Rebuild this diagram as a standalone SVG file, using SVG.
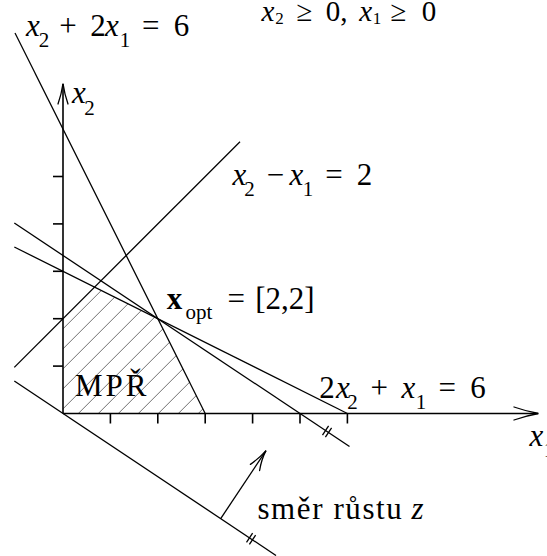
<svg xmlns="http://www.w3.org/2000/svg" width="547" height="556" viewBox="0 0 547 556">
<defs>
<style>
.ln{stroke:#000;stroke-width:1.3;fill:none}
.ax{stroke:#000;stroke-width:1.6;fill:none}
.tk{stroke:#000;stroke-width:1.6}
.hx{stroke:#333;stroke-width:0.7}
.ah{stroke:#000;stroke-width:1.3;fill:none;stroke-linecap:round}
.t{font-family:"Liberation Serif",serif;font-size:31px;fill:#000}
.i{font-style:italic}
.s{font-size:21px}
.b{font-weight:bold}
</style>
<clipPath id="mpr"><path d="M63,413.5 L63,318.7 L94.6,287.1 L157.8,318.7 L205.2,413.5 Z"/></clipPath>
</defs>
<rect width="547" height="556" fill="#fff"/>

<g id="hatch" clip-path="url(#mpr)">
<line class="hx" x1="40" y1="351.8" x2="230" y2="161.8"/>
<line class="hx" x1="40" y1="371.8" x2="230" y2="181.8"/>
<line class="hx" x1="40" y1="391.8" x2="230" y2="201.8"/>
<line class="hx" x1="40" y1="411.8" x2="230" y2="221.8"/>
<line class="hx" x1="40" y1="431.8" x2="230" y2="241.8"/>
<line class="hx" x1="40" y1="451.8" x2="230" y2="261.8"/>
<line class="hx" x1="40" y1="471.8" x2="230" y2="281.8"/>
<line class="hx" x1="40" y1="491.8" x2="230" y2="301.8"/>
<line class="hx" x1="40" y1="511.8" x2="230" y2="321.8"/>
<line class="hx" x1="40" y1="531.8" x2="230" y2="341.8"/>
<line class="hx" x1="40" y1="551.8" x2="230" y2="361.8"/>
<line class="hx" x1="40" y1="571.8" x2="230" y2="381.8"/>
</g>

<g id="axes">
<line class="ax" x1="63" y1="413.5" x2="538" y2="413.5"/>
<line class="ax" x1="63" y1="413.5" x2="63" y2="84"/>
<path class="ah" d="M514,407 Q527,411.5 538.5,413.5 Q527,415.5 514,420"/>
<path class="ah" d="M58,104 Q61.5,94 63,83.5 Q64.5,94 68,104"/>
<g id="xticks">
<line class="tk" x1="110.4" y1="413.5" x2="110.4" y2="423.5"/>
<line class="tk" x1="157.8" y1="413.5" x2="157.8" y2="423.5"/>
<line class="tk" x1="205.2" y1="413.5" x2="205.2" y2="423.5"/>
<line class="tk" x1="252.6" y1="413.5" x2="252.6" y2="423.5"/>
<line class="tk" x1="300" y1="413.5" x2="300" y2="423.5"/>
<line class="tk" x1="347.4" y1="413.5" x2="347.4" y2="423.5"/>
</g>
<g id="yticks">
<line class="tk" x1="53" y1="366.1" x2="63" y2="366.1"/>
<line class="tk" x1="53" y1="318.7" x2="63" y2="318.7"/>
<line class="tk" x1="53" y1="271.3" x2="63" y2="271.3"/>
<line class="tk" x1="53" y1="223.9" x2="63" y2="223.9"/>
<line class="tk" x1="53" y1="176.5" x2="63" y2="176.5"/>
</g>
</g>

<g id="connectors">
<line id="c1" class="ln" x1="15" y1="33" x2="205.2" y2="413.5"/>
<line id="c2" class="ln" x1="14.3" y1="367.4" x2="240" y2="141.7"/>
<line id="c3" class="ln" x1="14.3" y1="247" x2="347.4" y2="413.5"/>
<line id="c4" class="ln" x1="14.3" y1="223" x2="349.5" y2="446.5"/>
<line id="c5" class="ln" x1="14.3" y1="381" x2="276" y2="555.5"/>
<g id="marks">
<line class="ln" x1="322.5" y1="435.1" x2="328.6" y2="425.9"/>
<line class="ln" x1="325.4" y1="437.1" x2="331.6" y2="427.9"/>
<line class="ln" x1="246.5" y1="542.4" x2="252.6" y2="533.2"/>
<line class="ln" x1="249.4" y1="544.4" x2="255.6" y2="535.2"/>
</g>
<g id="zdir">
<line class="ln" x1="220.7" y1="518.6" x2="266" y2="450.6"/>
<path class="ah" d="M250.4,464.4 Q260,457.5 266,450.6 Q261.5,459 259.6,470.5"/>
</g>
</g>

<g id="labels">
<text class="t" text-anchor="middle"><tspan class="i" x="33" y="36">x</tspan><tspan class="s" x="44" y="47">2</tspan><tspan x="68" y="36"> + </tspan><tspan x="98" y="36">2</tspan><tspan class="i" x="112" y="36">x</tspan><tspan class="s" x="125" y="47">1</tspan><tspan x="150.7" y="36"> = </tspan><tspan x="181.4" y="36">6</tspan></text>
<text class="t" text-anchor="middle" style="font-size:29px"><tspan class="i" x="268" y="21">x</tspan><tspan x="279.5" y="24" style="font-size:17px">2</tspan><tspan x="304.4" y="21"> ≥ </tspan><tspan x="336.5" y="21">0,</tspan><tspan class="i" x="362" y="21"> x</tspan><tspan x="377" y="24" style="font-size:17px">1</tspan><tspan x="398.5" y="21"> ≥ </tspan><tspan x="428.9" y="21">0</tspan></text>
<text class="t" text-anchor="middle"><tspan class="i" x="79" y="103.3">x</tspan><tspan class="s" x="89.5" y="115">2</tspan></text>
<text class="t" text-anchor="middle"><tspan class="i" x="239.5" y="185.3">x</tspan><tspan class="s" x="249.5" y="195.8">2</tspan><tspan x="275.5" y="185.3"> − </tspan><tspan class="i" x="296.5" y="185.3">x</tspan><tspan class="s" x="308" y="195.8">1</tspan><tspan x="334" y="185.3"> = </tspan><tspan x="364.5" y="185.3">2</tspan></text>
<text class="t" text-anchor="middle"><tspan class="b" x="174.5" y="309.2">x</tspan><tspan class="s" x="199" y="319">opt</tspan><tspan x="236.3" y="309.2"> = </tspan><tspan x="285" y="309.2">[2,2]</tspan></text>
<text class="t" x="75" y="396.4" textLength="71.5" lengthAdjust="spacing">MPŘ</text>
<text class="t" text-anchor="middle"><tspan x="327" y="398">2</tspan><tspan class="i" x="343" y="398">x</tspan><tspan class="s" x="352.5" y="408.6">2</tspan><tspan x="379.3" y="398"> + </tspan><tspan class="i" x="408.5" y="398">x</tspan><tspan class="s" x="421" y="408.6">1</tspan><tspan x="447.3" y="398"> = </tspan><tspan x="478" y="398">6</tspan></text>
<text class="t" text-anchor="middle"><tspan class="i" x="536.5" y="446">x</tspan><tspan class="s" x="549" y="457">1</tspan></text>
<text class="t" x="257.4" y="518.7" letter-spacing="1.6">směr růstu <tspan class="i" x="411.6" letter-spacing="0">z</tspan></text>
</g>
</svg>
